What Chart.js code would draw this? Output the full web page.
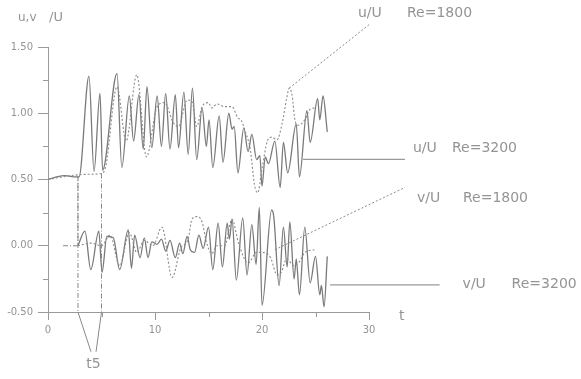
<!DOCTYPE html>
<html>
<head>
<meta charset="utf-8">
<script src="https://cdn.jsdelivr.net/npm/chart.js@4/dist/chart.umd.min.js"></script>
<style>
  body { margin: 0; background: #fff; }
  #wrap { width: 581px; height: 379px; position: relative; }
</style>
</head>
<body>
<div id="wrap"><canvas id="flowChart"></canvas></div>
<script>
// u/U, Re=3200 (solid)
const tU3200 = [0, 0.8, 1.6, 2.4, 2.9, 3.83, 4.3, 4.86, 5.1, 6.45, 6.9, 7.6, 8.0, 8.5, 8.9, 9.25, 9.7, 10.2, 10.6, 11.0, 11.4, 11.9, 12.2, 12.7, 13.1, 13.5, 13.9, 14.4, 14.8, 15.05, 15.4, 16.0, 16.35, 16.9, 17.2, 17.4, 17.75, 18.3, 18.7, 19.05, 19.5, 19.8, 20.0, 20.3, 20.6, 21.2, 21.7, 22.0, 22.4, 23.2, 23.5, 24.2, 24.5, 25.2, 25.4, 25.7, 26.1];
const u3200 = [0.50, 0.52, 0.53, 0.52, 0.52, 1.28, 0.56, 1.15, 0.57, 1.30, 0.59, 1.13, 0.79, 1.14, 0.73, 1.20, 0.74, 1.13, 0.75, 1.15, 0.73, 1.14, 0.74, 1.16, 0.69, 1.19, 0.65, 1.04, 0.75, 0.95, 0.59, 0.98, 0.63, 1.00, 0.88, 0.90, 0.55, 0.89, 0.71, 0.84, 0.65, 0.68, 0.45, 0.67, 0.62, 0.79, 0.44, 0.78, 0.55, 0.92, 0.52, 1.02, 0.78, 1.11, 0.95, 1.13, 0.86];

// u/U, Re=1800 (dotted)
const tU1800 = [0, 1.4, 2.8, 4.0, 5.0, 5.4, 6.45, 7.3, 8.3, 9.2, 10.2, 10.9, 11.7, 12.2, 13.0, 13.5, 13.9, 14.4, 15.0, 15.3, 15.8, 16.5, 17.2, 17.7, 18.1, 18.4, 18.9, 19.3, 19.6, 20.0, 20.5, 20.9, 21.4, 21.9, 22.3, 22.55, 22.8, 23.1, 23.4, 24.0, 24.5, 25.0];
const u1800 = [0.50, 0.52, 0.535, 0.54, 0.545, 0.60, 1.20, 0.79, 1.29, 0.67, 1.05, 1.08, 0.93, 0.90, 1.10, 1.08, 0.90, 1.05, 1.08, 1.04, 1.07, 1.05, 1.05, 0.97, 0.94, 0.87, 0.73, 0.46, 0.40, 0.58, 0.79, 0.82, 0.80, 0.93, 1.11, 1.19, 1.14, 0.94, 0.91, 0.95, 1.03, 1.04];

// v/U, Re=3200 (solid)
const tV3200 = [2.8, 3.45, 4.0, 4.75, 5.05, 5.5, 6.1, 6.7, 7.5, 7.8, 8.1, 8.6, 9.0, 9.35, 9.7, 10.2, 10.6, 11.0, 11.4, 11.9, 12.3, 12.6, 13.0, 13.3, 13.7, 14.1, 14.5, 15.0, 15.4, 15.9, 16.3, 16.75, 16.95, 17.2, 17.6, 18.2, 18.6, 19.05, 19.45, 19.75, 20.0, 20.9, 21.1, 21.6, 22.0, 22.35, 22.6, 23.0, 23.2, 23.5, 24.0, 24.5, 25.0, 25.4, 25.55, 25.8, 26.1];
const v3200 = [0, 0.11, -0.18, 0.11, -0.20, 0.07, 0.06, -0.18, 0.12, -0.17, 0.08, -0.09, 0.06, -0.09, 0.03, 0.01, 0.05, -0.04, 0.04, -0.09, 0.02, -0.06, 0.07, -0.03, -0.05, 0.08, -0.02, 0.14, -0.18, 0.17, -0.16, 0.17, 0.05, 0.20, -0.26, 0.21, -0.22, 0.16, -0.14, 0.29, -0.45, 0.27, 0.22, -0.30, 0.14, -0.16, 0.18, -0.25, -0.10, -0.37, 0.14, -0.28, -0.08, -0.37, -0.30, -0.46, -0.08];

// v/U, Re=1800 (dotted)
const tV1800 = [2.8, 4.0, 5.0, 5.8, 6.7, 7.6, 8.3, 9.0, 9.8, 10.65, 11.6, 12.4, 13.1, 13.45, 13.9, 14.4, 14.8, 15.3, 15.8, 16.5, 17.2, 17.8, 18.7, 19.5, 20.0, 20.8, 21.4, 21.8, 22.3, 23.0, 23.5, 24.0, 24.9];
const v1800 = [0, 0.02, 0.0, 0.08, -0.15, 0.10, -0.05, 0.04, 0.0, 0.14, -0.24, -0.02, 0.05, 0.20, 0.22, 0.18, 0.03, -0.06, 0.0, 0.0, 0.20, 0.02, -0.13, -0.05, -0.05, -0.09, -0.22, -0.20, -0.10, -0.15, -0.12, -0.05, -0.03];

// t5 marker lines (t, value)
const t5Left = [[1.4, 0], [2.8, 0], [2.8, 0.52], [2.8, -0.5]];
const t5Right = [[5.0, 0.545], [5.0, -0.5]];
const t5LegA = [[2.8, -0.5], [4.02, -0.80]];
const t5LegB = [[5.0, -0.5], [4.49, -0.80]];

// leader lines to the series labels
const leadU1800 = [[22.55, 1.19], [30.09, 1.674]];
const leadU3200 = [[23.83, 0.652], [33.36, 0.652]];
const leadV1800 = [[21.2, -0.03], [33.36, 0.44]];
const leadV3200 = [[26.36, -0.295], [36.6, -0.295]];

const seriesNames = ["u/U", "u/U", "v/U", "v/U"];
const seriesRe = ["Re=1800", "Re=3200", "Re=1800", "Re=3200"];

const yMinorTicks = [1.25, 0.75, 0.25, -0.25];
const xMinorTicks = [5, 15, 25];

function toPts(ts, vs) {
    return ts.map((t, i) => ({ x: t, y: vs[i] }));
}
function pairPts(arr) {
    return arr.map(p => ({ x: p[0], y: p[1] }));
}

const solidColor = "#7a7a7a";
const dotColor = "#8a8a8a";
const textColor = "#949494";

function lineSet(data, color, dash, width, smooth) {
    return {
        data: data,
        borderColor: color,
        borderWidth: width,
        borderDash: dash,
        pointRadius: 0,
        fill: false,
        clip: false,
        cubicInterpolationMode: smooth ? "monotone" : "default",
        tension: smooth ? 0.4 : 0
    };
}

// text labels, drawn after the chart
const textPlugin = {
    id: "textPlugin",
    afterDraw(chart) {
        const ctx = chart.ctx;
        const area = chart.chartArea;
        const xs = chart.scales.x;
        const ys = chart.scales.y;
        ctx.save();

        // minor ticks
        ctx.strokeStyle = "#9a9a9a";
        ctx.lineWidth = 1;
        yMinorTicks.forEach(v => {
            const py = Math.round(ys.getPixelForValue(v)) + 0.5;
            ctx.beginPath();
            ctx.moveTo(area.left - 5, py);
            ctx.lineTo(area.left, py);
            ctx.stroke();
        });
        xMinorTicks.forEach(v => {
            const px = Math.round(xs.getPixelForValue(v)) + 0.5;
            ctx.beginPath();
            ctx.moveTo(px, area.bottom);
            ctx.lineTo(px, area.bottom + 5);
            ctx.stroke();
        });

        ctx.fillStyle = textColor;
        ctx.textBaseline = "middle";
        ctx.textAlign = "left";

        // axis titles
        ctx.font = "12px 'DejaVu Sans'";
        ctx.fillText("u,v", area.left - 30, area.top - 29);
        ctx.font = "13px 'DejaVu Sans'";
        ctx.fillText("/U", area.left + 1, area.top - 29);
        ctx.font = "14px 'DejaVu Sans'";
        ctx.fillText("t", area.right + 30, area.bottom + 4);

        // t5 label under the V
        ctx.textAlign = "center";
        const apexX = (xs.getPixelForValue(t5LegA[1][0]) + xs.getPixelForValue(t5LegB[1][0])) / 2;
        const apexY = ys.getPixelForValue(t5LegA[1][1]);
        ctx.fillText("t5", apexX, apexY + 13);

        // series labels at the leader ends
        ctx.textAlign = "left";
        const ends = [leadU1800[1], leadU3200[1], leadV1800[1], leadV3200[1]];
        const offs = [[-12, 37, -11], [8, 47, -11], [12, 58, 11], [23, 72, 0]];
        ends.forEach((e, i) => {
            const px = xs.getPixelForValue(e[0]);
            const py = ys.getPixelForValue(e[1]);
            ctx.fillText(seriesNames[i], px + offs[i][0], py + offs[i][2]);
            ctx.fillText(seriesRe[i], px + offs[i][1], py + offs[i][2]);
        });
        ctx.restore();
    }
};

const ctx = document.getElementById("flowChart").getContext("2d");
new Chart(ctx, {
    type: "line",
    data: {
        datasets: [
            lineSet(toPts(tU1800, u1800), dotColor, [2, 2], 1.1, true),
            lineSet(toPts(tV1800, v1800), dotColor, [2, 2], 1.1, true),
            lineSet(toPts(tU3200, u3200), solidColor, [], 1.3, true),
            lineSet(toPts(tV3200, v3200), solidColor, [], 1.3, true),
            lineSet(pairPts(t5Left), "#888", [5, 2, 1, 2], 1, false),
            lineSet(pairPts(t5Right), "#888", [5, 2, 1, 2], 1, false),
            lineSet(pairPts(t5LegA), "#888", [], 1, false),
            lineSet(pairPts(t5LegB), "#888", [], 1, false),
            lineSet(pairPts(leadU1800), dotColor, [2, 2], 1, false),
            lineSet(pairPts(leadU3200), "#999", [], 1.2, false),
            lineSet(pairPts(leadV1800), dotColor, [2, 2], 1, false),
            lineSet(pairPts(leadV3200), "#999", [], 1.2, false)
        ]
    },
    options: {
        responsive: true,
        maintainAspectRatio: false,
        animation: false,
        layout: { padding: { top: 47, right: 212, bottom: 0, left: 0 } },
        plugins: {
            legend: { display: false },
            tooltip: { enabled: false }
        },
        scales: {
            x: {
                type: "linear",
                min: 0,
                max: 30,
                afterFit: scale => { scale.height = 67; },
                ticks: {
                    stepSize: 10,
                    padding: 4,
                    color: textColor,
                    font: { family: "'DejaVu Sans'", size: 10 }
                },
                grid: { drawOnChartArea: false, drawTicks: true, tickLength: 8, color: "#9a9a9a" },
                border: { color: "#9a9a9a", width: 1 }
            },
            y: {
                min: -0.5,
                max: 1.5,
                afterFit: scale => { scale.width = 48; },
                ticks: {
                    stepSize: 0.5,
                    padding: 5,
                    color: textColor,
                    font: { family: "'DejaVu Sans'", size: 10 },
                    callback: v => v.toFixed(2)
                },
                grid: { drawOnChartArea: false, drawTicks: true, tickLength: 10, color: "#9a9a9a" },
                border: { color: "#9a9a9a", width: 1 }
            }
        }
    },
    plugins: [textPlugin]
});
</script>
</body>
</html>
